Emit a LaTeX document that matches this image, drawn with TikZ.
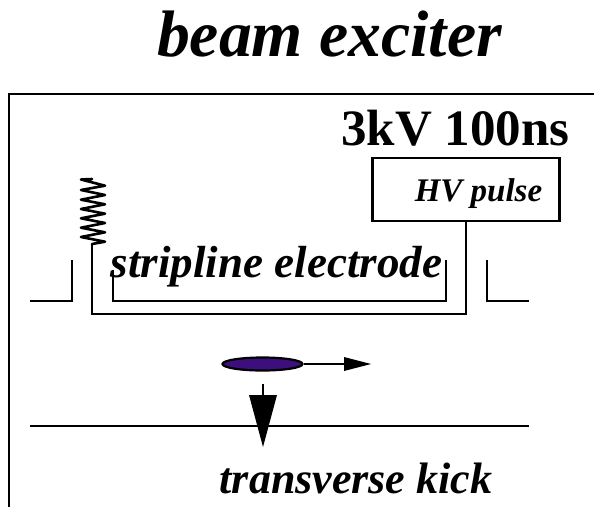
\documentclass[tikz,border=0pt]{standalone}
\usepackage{fontspec}
\setmainfont{Liberation Serif}
\usetikzlibrary{shapes.geometric}
\definecolor{bunchcol}{RGB}{60,15,125}
\begin{document}
\begin{tikzpicture}[x=1pt,y=-1pt,
  wire/.style={draw=black,line width=2.2pt,line join=miter},
  thin wire/.style={draw=black,line width=2pt},
  lbl/.style={inner sep=0pt,anchor=base}]
\useasboundingbox (0,0) rectangle (594,507);
\node[lbl,font=\bfseries\itshape\fontsize{65.7}{66}\selectfont] (title) at (329.5,56) {beam exciter};
\draw[wire] (9,507) -- (9,94) -- (594,94);
% beam pipe
\draw[thin wire] (30,301) -- (72,301) -- (72,260);
\draw[thin wire] (529,301) -- (487,301) -- (487,260);
\draw[thin wire] (30,426) -- (529,426);
% HV pulse
\node[draw=black,line width=2.2pt,minimum width=187pt,minimum height=63pt,inner sep=0pt] (hv) at (466,189.5) {};
\node[lbl,font=\bfseries\itshape\fontsize{33}{33}\selectfont] (hvt) at (478.5,201.5) {HV pulse};
\node[lbl,font=\bfseries\fontsize{51}{51}\selectfont] (kv) at (455.5,145) {3kV 100ns};
% spring
\coordinate (sp) at (92,244);
\draw[draw=black,line width=2.6pt,line join=round,line cap=round] (92,179) -- (81,179.5) -- (105,185.7) -- (81,190) -- (105,195) -- (81,199.7) -- (105,204.3) -- (81,209) -- (105,213.7) -- (81,218.3) -- (105,223) -- (81,227.7) -- (105,232.3) -- (81,237) -- (105,241.7) -- (sp);
% electrodes
\draw[wire] (sp) -- (92,314) -- (466,314) -- (hv.south);
\draw[thin wire] (113,270) -- (113,301) -- (446,301) -- (446,260);
\node[lbl,font=\bfseries\itshape\fontsize{45}{45}\selectfont] (sl) at (276.5,277) {stripline electrode};
% bunch
\node[draw=black,line width=2.2pt,fill=bunchcol,shape=ellipse,minimum width=80pt,minimum height=13pt,inner sep=0pt] (bunch) at (262.5,364) {};
\coordinate (fw) at (371,364);
\draw[draw=black,line width=1.8pt] (bunch.east) -- (345,364);
\fill (344,357) -- (fw) -- (344,371) -- cycle;
\coordinate (k0) at (263,384);
\coordinate (k1) at (263,447);
\draw[line width=2.2pt] (k0) -- (263,396);
\fill (249,395) -- (277,395) -- (k1) -- cycle;
\node[lbl,font=\bfseries\itshape\fontsize{44}{44}\selectfont] (tk) at (356,493) {transverse kick};
\end{tikzpicture}
\end{document}
